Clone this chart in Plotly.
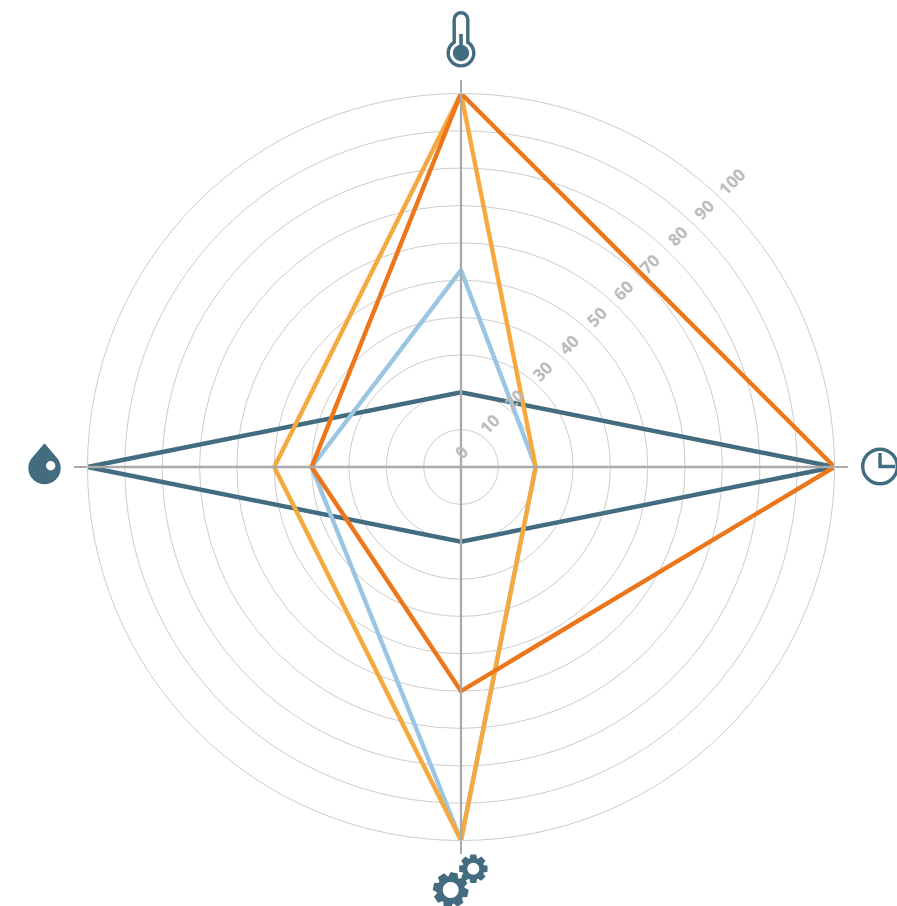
import base64
import math
import plotly.graph_objects as go

W, H = 897, 906
CX, CY, R = 461, 467, 373.5

axis_angles = [0, 90, 180, 270]
tick_values = [0, 10, 20, 30, 40, 50, 60, 70, 80, 90, 100]
tick_pad = [5, 6, 5, 6, 6, 7, 7, 7, 8, 8, 9]

light_blue = [20, 52.7, 40, 100]
light_orange = [20, 100, 50, 100]
dark_teal = [100, 20, 100, 20]
dark_orange = [100, 100, 40, 60]

ICON = "#436C80"

def gear(cx, cy, r_out, r_in, hole, teeth=8, rot=0.0):
    pts = []
    step = 2 * math.pi / teeth
    for i in range(teeth):
        a = rot + i * step
        for da, r in ((-0.45, r_in), (-0.26, r_out), (0.26, r_out), (0.45, r_in)):
            pts.append((cx + r * math.cos(a + da * step), cy + r * math.sin(a + da * step)))
    d = "M" + " L".join(f"{x:.2f},{y:.2f}" for x, y in pts) + " Z"
    d += f" M{cx+hole},{cy} A{hole},{hole} 0 1,0 {cx-hole},{cy} A{hole},{hole} 0 1,0 {cx+hole},{cy} Z"
    return f'<path fill-rule="evenodd" fill="{ICON}" d="{d}"/>'

icons = {
    "thermo": (440, 5, 42, 68,
        f'<path fill="none" stroke="{ICON}" stroke-width="3.4" d="M14.2,37.2 V14.5 a6.8,6.8 0 0 1 13.6,0 V37.2 a12.8,12.8 0 1 1 -13.6,0 Z"/>'
        f'<rect x="19.2" y="29" width="3.6" height="16" fill="{ICON}"/>'
        f'<circle cx="21" cy="48" r="8.2" fill="{ICON}"/>'),
    "drop": (24, 438, 42, 52,
        f'<path fill-rule="evenodd" fill="{ICON}" d="M20.5,5.3 L32.7,19.4 A16.2,16.2 0 1 1 8.3,19.4 Z '
        f'M31.4,27.7 a4.7,4.7 0 1 0 -9.4,0 a4.7,4.7 0 1 0 9.4,0 Z"/>'),
    "clock": (857, 442, 40, 50,
        f'<circle cx="23" cy="24.5" r="17.3" fill="none" stroke="{ICON}" stroke-width="3.4"/>'
        f'<path fill="none" stroke="{ICON}" stroke-width="3.4" d="M23,11 V24.5 H38"/>'),
    "gears": (425, 846, 72, 60,
        gear(25.7, 44, 18, 14, 8, rot=0.2) + gear(48.3, 22.7, 14.5, 11, 6, rot=0.0)),
}

def uri(w, h, body):
    svg = f'<svg xmlns="http://www.w3.org/2000/svg" width="{w}" height="{h}" viewBox="0 0 {w} {h}">{body}</svg>'
    return "data:image/svg+xml;base64," + base64.b64encode(svg.encode()).decode()

images = [dict(source=uri(w, h, b), xref="paper", yref="paper", x=x / W, y=1 - y / H,
               sizex=w / W, sizey=h / H, xanchor="left", yanchor="top", layer="above",
               sizing="stretch")
          for (x, y, w, h, b) in icons.values()]

fig = go.Figure()
for values, color in zip([dark_teal, light_blue, light_orange, dark_orange],
                         ["#436C80", "#9AC6E3", "#F5A93D", "#EC7619"]):
    fig.add_trace(go.Scatterpolar(r=values + values[:1], theta=axis_angles + axis_angles[:1],
                                  mode="lines", line=dict(color=color, width=4.4), hoverinfo="skip"))

# The grey spokes sit over the series in the reference.
spoke_r, spoke_theta = [], []
for a in axis_angles:
    spoke_r += [0, 100, None]
    spoke_theta += [a, a, None]
fig.add_trace(go.Scatterpolar(r=spoke_r, theta=spoke_theta, mode="lines",
                              line=dict(color="#AAAAAA", width=2.3), hoverinfo="skip"))

fig.update_layout(
    width=W, height=H, autosize=False, showlegend=False,
    paper_bgcolor="white", plot_bgcolor="white",
    margin=dict(l=0, r=0, t=0, b=0),
    images=images,
    polar=dict(
        domain=dict(x=[(CX - R) / W, (CX + R) / W], y=[1 - (CY + R) / H, 1 - (CY - R) / H]),
        bgcolor="white",
        radialaxis=dict(range=[0, 100], angle=45, tickangle=0, tickvals=tick_values,
                        ticktext=["\u00a0" * n + str(v) for n, v in zip(tick_pad, tick_values)],
                        showline=False, ticks="", side="counterclockwise",
                        gridcolor="#CCCCCC", gridwidth=1,
                        tickfont=dict(family="Open Sans", size=17, color="#BBBBBB", weight=700)),
        angularaxis=dict(tickmode="array", tickvals=axis_angles, ticktext=[""] * 4,
                         direction="counterclockwise", rotation=0, thetaunit="degrees",
                         showline=True, linecolor="#CCCCCC", linewidth=1,
                         gridcolor="#AAAAAA", gridwidth=2.3,
                         ticks="outside", ticklen=13, tickwidth=2.3, tickcolor="#AAAAAA"),
    ),
)
fig.write_html("out.html", config=dict(displayModeBar=False),
               post_script="document.body.style.margin='0';document.documentElement.style.overflow='hidden';")
